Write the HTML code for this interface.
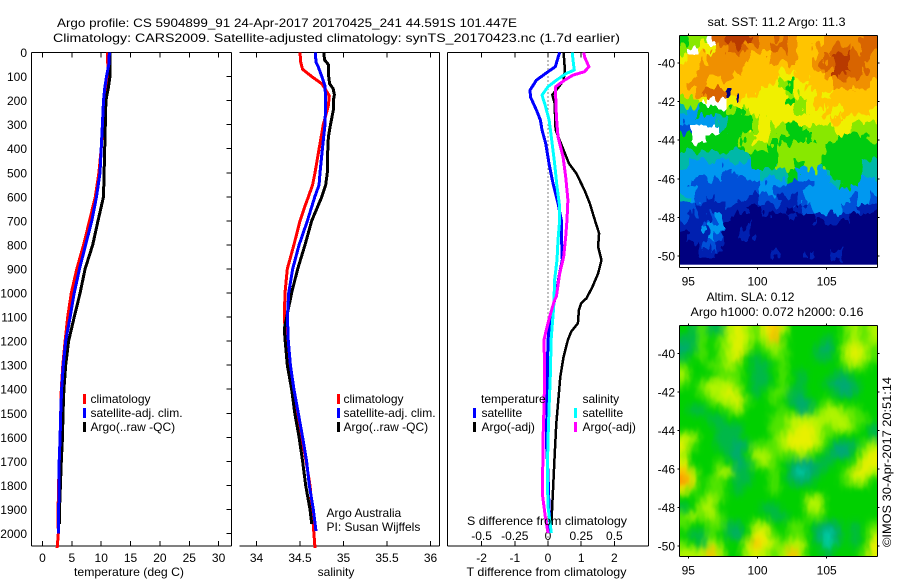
<!DOCTYPE html>
<html lang="en">
<head>
<meta charset="utf-8">
<title>Argo profile</title>
<style>
html,body{margin:0;padding:0;background:#fff}
svg{display:block}
text{font-family:"Liberation Sans",sans-serif;font-size:12px;fill:#000}
</style>
</head>
<body>
<svg id="chart" xmlns="http://www.w3.org/2000/svg" width="900" height="580" viewBox="0 0 900 580">
  <defs>
    <clipPath id="sst-clip"><rect x="679.5" y="35.5" width="198" height="232"/></clipPath>
    <clipPath id="sla-clip"><rect x="679.5" y="325.5" width="198" height="231"/></clipPath>
    <filter id="sla-blur" filterUnits="userSpaceOnUse" x="650" y="300" width="250" height="280" color-interpolation-filters="sRGB">
      <feGaussianBlur in="SourceGraphic" stdDeviation="3.6" result="b"/>
      <feTurbulence type="fractalNoise" baseFrequency="0.25 0.12" numOctaves="1" seed="5" result="n"/>
      <feDisplacementMap in="b" in2="n" scale="6" xChannelSelector="R" yChannelSelector="G"/>
    </filter>
    <filter id="sst-feather" filterUnits="userSpaceOnUse" x="650" y="10" width="250" height="280" color-interpolation-filters="sRGB">
      <feTurbulence type="fractalNoise" baseFrequency="0.14 0.07" numOctaves="2" seed="3" result="n"/>
      <feDisplacementMap in="SourceGraphic" in2="n" scale="20" xChannelSelector="R" yChannelSelector="G"/>
    </filter>
  </defs>
  <text x="57" y="27" textLength="460" lengthAdjust="spacingAndGlyphs">Argo profile: CS 5904899_91 24-Apr-2017 20170425_241 44.591S 101.447E</text>
  <text x="53" y="42" textLength="567" lengthAdjust="spacingAndGlyphs">Climatology: CARS2009. Satellite-adjusted climatology: synTS_20170423.nc (1.7d earlier)</text>
  <g id="plots"></g>

  <g>
    <rect x="83" y="394" width="3" height="10" fill="#f00"/>
    <text x="90.5" y="403">climatology</text>
    <rect x="83" y="408" width="3" height="10" fill="#00f"/>
    <text x="90.5" y="417">satellite-adj. clim.</text>
    <rect x="83" y="422" width="3" height="10" fill="#000"/>
    <text x="90.5" y="431">Argo(..raw -QC)</text>
  </g>
  <g>
    <rect x="337" y="394" width="3" height="10" fill="#f00"/>
    <text x="343.5" y="403">climatology</text>
    <rect x="337" y="408" width="3" height="10" fill="#00f"/>
    <text x="343.5" y="417">satellite-adj. clim.</text>
    <rect x="337" y="422" width="3" height="10" fill="#000"/>
    <text x="343.5" y="431">Argo(..raw -QC)</text>
  </g>
  <text x="326.5" y="517">Argo Australia</text>
  <text x="326.5" y="531">PI: Susan Wijffels</text>

  <g>
    <text x="481" y="403">temperature</text>
    <rect x="473" y="408" width="3" height="10" fill="#00f"/>
    <text x="481.5" y="417">satellite</text>
    <rect x="473" y="422" width="3" height="10" fill="#000"/>
    <text x="481.5" y="431">Argo(-adj)</text>
    <text x="582.5" y="403">salinity</text>
    <rect x="574" y="408" width="3" height="10" fill="#0ff"/>
    <text x="582.5" y="417">satellite</text>
    <rect x="574" y="422" width="3" height="10" fill="#f0f"/>
    <text x="582.5" y="431">Argo(-adj)</text>
  </g>

  <text x="129" y="576" text-anchor="middle" textLength="110" lengthAdjust="spacingAndGlyphs">temperature (deg C)</text>
  <text x="336" y="576" text-anchor="middle">salinity</text>
  <text x="467" y="525" textLength="160" lengthAdjust="spacingAndGlyphs">S difference from climatology</text>
  <text x="466.5" y="576" textLength="160" lengthAdjust="spacingAndGlyphs">T difference from climatology</text>

  <text x="707.5" y="26" textLength="138" lengthAdjust="spacingAndGlyphs">sat. SST: 11.2 Argo: 11.3</text>
  <text x="706.5" y="301" textLength="88" lengthAdjust="spacingAndGlyphs">Altim. SLA: 0.12</text>
  <text x="690.5" y="316" textLength="173" lengthAdjust="spacingAndGlyphs">Argo h1000: 0.072 h2000: 0.16</text>
  <text transform="translate(891 547) rotate(-90)" textLength="170" lengthAdjust="spacingAndGlyphs">©IMOS 30-Apr-2017 20:51:14</text>
</svg>
<script>
// ---- profile data ----
const tempDepths_red = [0,100,150,200,300,400,500,600,700,800,900,1000,1100,1200,1300,1400,1500,1600,1700,1800,1900,2000,2060];
const tempClimatology = [11.05,11.2,10.8,10.4,10.25,10,9.6,9,8,7,5.85,4.9,4.3,3.85,3.45,3.2,3.1,3,2.85,2.75,2.65,2.7,2.5];
const tempDepths_blue = [0,50,100,150,200,300,400,500,600,700,800,900,1000,1100,1200,1300,1400,1500,1600,1700,1800,1900,2000];
const tempSatellite = [11.4,11.3,10.9,10.6,10.4,10.2,10,9.8,9.2,8.4,7.35,6.3,5.4,4.7,3.95,3.55,3.25,3.1,3,2.85,2.85,2.75,2.7];
const tempDepths_black = [0,100,150,200,300,400,500,600,700,800,900,1000,1100,1200,1300,1400,1500,1600,1700,1800,1900,1960];
const tempArgo = [11.5,11.5,11.2,10.8,10.7,10.6,10.5,10.4,9.45,8.55,7.25,6.4,5.4,4.45,3.95,3.65,3.5,3.4,3.2,3.05,2.9,2.9];

const salDepths_red = [0,40,70,100,130,150,180,220,300,400,500,550,600,650,700,800,900,1000,1100,1200,1300,1400,1500,1600,1700,1800,1900,2000,2060];
const salClimatology = [34.5,34.508,34.53,34.634,34.75,34.787,34.837,34.826,34.768,34.72,34.672,34.645,34.596,34.546,34.5,34.43,34.354,34.328,34.32,34.34,34.385,34.423,34.47,34.52,34.57,34.615,34.64,34.66,34.672];
const salDepths_blue = [0,40,60,100,140,200,300,400,500,550,600,700,800,900,1000,1100,1200,1300,1400,1500,1600,1700,1800,1900,1990];
const salSatellite = [34.676,34.684,34.71,34.75,34.787,34.795,34.787,34.757,34.73,34.72,34.67,34.585,34.49,34.416,34.37,34.355,34.366,34.39,34.43,34.48,34.53,34.576,34.607,34.653,34.684];
const salDepths_black = [0,30,50,100,130,150,175,200,240,300,350,400,500,550,600,700,800,900,1000,1150,1200,1300,1400,1500,1600,1700,1800,1900,1960];
const salArgo = [34.776,34.78,34.825,34.83,34.84,34.88,34.895,34.883,34.883,34.85,34.826,34.82,34.814,34.795,34.75,34.634,34.557,34.473,34.404,34.32,34.33,34.354,34.404,34.44,34.49,34.53,34.565,34.615,34.634];

const dTDepths_argo = [0,73,115,142,176,211,322,392,461,502,572,627,696,752,807,863,919,974,1022,1043,1071,1126,1161,1195,1265,1348,1431,1542,1680,1819,1930,1985];
const dTArgo = [.47,.51,.47,.33,.13,.2,.23,.43,.63,.85,1.1,1.26,1.41,1.54,1.51,1.61,1.51,1.34,1.16,1,.93,.9,.7,.6,.47,.37,.32,.25,.2,.15,.11,.07];
const dTDepths_sat = [0,59,87,115,156,184,239,281,322,378,461,544,627,696,780,863,932,1001,1071,1126,1195,1334,1473,1611,1750,1888,1998];
const dTSatellite = [.35,.22,-.07,-.35,-.54,-.53,-.35,-.23,-.18,-.07,.03,.15,.3,.4,.41,.43,.33,.25,.13,.05,0,-.02,-.03,-.05,0,.03,.07];
const dSDepths_sat = [0,31,73,87,115,142,177,225,281,350,461,558,641,696,780,863,946,1029,1057,1126,1195,1334,1473,1611,1750,1888,1998];
const dSSatellite = [.183,.188,.198,.138,.063,0,-.045,-.018,.008,.025,.05,.068,.088,.088,.075,.068,.05,.045,.043,.033,.023,.018,.008,0,-.005,0,.025];
const dSDepths_argo = [0,18,59,80,94,115,142,184,267,350,433,517,613,696,766,849,919,1015,1029,1098,1154,1195,1334,1473,1611,1750,1847,1930,1998];
const dSArgo = [.27,.275,.308,.275,.188,.125,.058,.058,.063,.075,.113,.133,.15,.143,.133,.118,.088,.063,.05,.013,-.013,-.03,-.025,-.03,-.038,-.04,-.04,-.02,0];

// ---- tick labels ----
const depthTicks = [0,100,200,300,400,500,600,700,800,900,1000,1100,1200,1300,1400,1500,1600,1700,1800,1900,2000];
const tempTicks = [0,5,10,15,20,25,30];
const salTicks = [34,34.5,35,35.5,36];
const dTTicks = [-2,-1,0,1,2];
const dSTicks = [-0.5,-0.25,0,0.25,0.5];
const lonTicks = [95,100,105];
const latTicks = [-40,-42,-44,-46,-48,-50];

// ---- map grids: colour level per cell (north to south, west to east); null = no data ----
const _ = null;
const sstGrid = [
[5,6,6,_,10,11,11,11,10,9,9,10,9,8,8,8,9,9,9,9,10,10],
[6,_,7,7,9,10,10,9,9,9,10,10,9,8,8,9,9,10,10,9,10,10],
[7,8,8,9,9,9,9,9,8,8,9,9,9,8,8,9,10,11,11,10,10,9],
[8,8,9,9,9,9,9,8,8,8,8,8,8,8,8,9,10,11,11,10,10,9],
[8,8,9,9,9,9,8,8,8,8,8,7,7,8,8,8,9,11,10,10,9,9],
[8,9,9,8,8,8,8,8,8,8,7,6,5,7,8,8,8,9,9,9,9,8],
[8,8,9,10,10,0,8,8,8,7,7,7,6,7,7,8,7,8,8,8,8,8],
[6,6,7,_,_,7,7,7,7,7,7,7,5,6,7,8,8,8,8,8,8,8],
[4,3,5,5,5,6,5,6,7,7,7,7,7,6,7,7,8,7,8,8,8,7],
[3,3,3,3,4,5,5,5,6,7,7,7,7,7,7,7,7,8,7,7,7,7],
[2,_,_,_,4,5,5,5,6,7,6,6,5,5,6,6,6,7,7,6,6,6],
[5,_,_,5,5,5,5,6,7,7,6,5,5,5,5,6,6,6,5,5,5,6],
[5,5,5,5,5,5,5,6,6,6,5,6,6,6,6,6,5,5,5,5,5,5],
[4,4,4,4,4,4,4,4,5,5,5,6,6,6,6,6,5,5,5,5,5,5],
[4,3,3,3,3,3,3,3,5,5,5,6,6,5,6,6,5,5,5,5,4,4],
[3,3,3,3,3,2,3,3,3,4,4,4,5,3,3,3,4,5,5,5,4,4],
[3,2,2,2,2,2,2,2,2,3,3,3,2,2,2,3,3,4,5,5,3,3],
[3,3,2,2,2,2,2,2,2,3,3,2,2,2,3,3,3,3,3,3,3,3],
[4,3,2,1,2,2,2,1,1,2,2,1,1,2,3,3,3,3,3,2,3,2],
[2,2,1,1,1,1,1,1,0,1,1,1,0,1,2,3,3,3,2,2,1,1],
[2,1,1,2,3,1,0,0,0,0,0,0,1,0,0,1,1,1,1,0,0,0],
[1,1,1,3,3,0,0,1,0,0,0,0,0,0,0,0,0,0,0,0,0,0],
[0,1,1,3,2,0,0,1,0,0,0,0,0,0,0,0,0,0,0,0,0,0],
[0,0,1,2,1,0,0,0,0,0,0,0,0,0,0,0,0,0,0,0,0,0],
[0,0,1,1,0,0,0,0,0,0,1,0,0,0,1,0,0,1,0,0,0,0],
[0,0,0,0,0,0,0,0,0,0,0,0,0,0,0,0,0,0,0,0,0,0]
];
const slaGrid = [
[3,2,4,2,2,5,6,5,4,6,7,5,3,3,3,3,3,3,4,5,4,5],
[2,2,4,3,4,5,6,5,4,5,7,4,3,3,3,3,2,3,4,5,4,5],
[1,2,4,3,4,5,6,5,3,4,5,4,3,3,3,2,1,3,5,6,5,4],
[2,3,4,3,4,5,6,3,2,3,4,4,3,3,3,2,2,3,5,6,5,4],
[4,3,3,4,4,5,4,3,2,2,3,4,3,3,3,3,3,3,4,5,4,3],
[5,3,3,3,4,4,4,3,2,2,3,4,3,2,3,3,3,2,2,3,3,3],
[4,3,4,5,5,5,4,3,2,2,3,4,3,2,3,3,2,1,1,2,3,3],
[3,3,4,5,5,6,5,3,2,3,4,4,2,2,3,3,3,2,1,2,3,3],
[3,3,3,4,5,5,6,4,3,3,4,3,2,1,2,3,4,3,3,3,3,3],
[3,2,2,3,3,4,5,3,3,3,3,4,3,1,2,4,5,5,4,4,3,3],
[3,3,3,2,2,3,3,3,3,3,4,4,5,5,5,5,5,5,5,4,4,3],
[3,3,3,3,2,2,2,3,3,3,4,4,5,6,6,5,4,5,5,4,3,2],
[5,5,3,3,2,2,2,3,3,3,4,5,6,6,6,5,4,3,3,3,3,2],
[6,4,3,3,2,2,1,2,4,4,4,5,6,6,6,5,3,1,1,2,4,5],
[5,3,3,3,3,2,1,3,5,5,4,4,4,5,4,3,2,1,1,3,5,6],
[6,3,3,3,4,3,1,2,4,5,4,3,2,1,1,2,2,3,3,4,6,6],
[7,5,3,3,5,5,2,2,3,3,4,3,1,0,1,2,3,3,4,6,6,5],
[8,6,3,4,4,3,2,2,3,3,4,3,2,1,2,3,3,3,4,5,5,3],
[6,4,3,4,4,3,2,3,3,3,4,3,3,3,3,3,3,3,3,3,3,3],
[3,3,4,5,4,3,3,3,3,3,3,3,3,3,5,5,3,3,3,3,3,3],
[2,3,5,5,3,3,3,3,3,2,2,3,3,3,5,5,3,3,3,3,3,3],
[4,5,4,5,4,3,3,3,3,3,2,2,3,3,4,4,3,3,3,3,3,3],
[4,3,3,4,4,2,2,3,5,5,3,3,4,4,3,2,1,2,3,2,3,4],
[3,2,2,4,3,2,1,3,6,6,4,3,4,4,3,1,0,1,3,2,3,5],
[4,3,2,5,4,3,3,5,7,6,5,4,5,5,3,2,0,2,3,2,3,6],
[5,5,5,7,5,3,3,5,6,5,4,5,7,5,3,3,2,3,3,3,4,6]
];
const sstPalette = ['#00007f','#0020b0','#0050d8','#0098f0','#00b8a8','#00cc10','#88e800','#f0f000','#ffc400','#f09000','#d86400','#b83a00'];
const slaPalette = ['#00d0b0','#00a878','#00b848','#00d000','#50e400','#b0f400','#e8f000','#ffc000','#ff9000'];

const NS = 'http://www.w3.org/2000/svg';
const plots = document.getElementById('plots');
function el(tag, attrs, parent) {
  const e = document.createElementNS(NS, tag);
  for (const k in attrs) e.setAttribute(k, attrs[k]);
  (parent || plots).appendChild(e);
  return e;
}

// ---- axis functions ----
const TOP = 52.5, BOTTOM = 546;
const yDepth = p => TOP + 0.2405 * p;
const xTemp = t => 42.5 + 5.87 * t;
const xSal = s => 256.5 + 87 * (s - 34);
const xDT = d => 548 + 33.2 * d;
const xDS = d => 548 + 132.8 * d;
const xLon = lon => 688.3 + 13.84 * (lon - 95);
const ySst = lat => 63 - 19.3 * (lat + 40);
const ySla = lat => 353.3 - 19.27 * (lat + 40);

function line(x1, y1, x2, y2, parent) {
  const l = el('line', {x1, y1, x2, y2, stroke: '#000', 'stroke-width': 1, 'shape-rendering': 'crispEdges'}, parent);
  
  
  return l;
}
function label(x, y, str, anchor) {
  const t = el('text', {x, y, 'text-anchor': anchor || 'middle'});
  t.textContent = str;
  
  
  return t;
}
function profile(name, xf, depths, values, color, width) {
  const pts = values.map((v, i) => xf(v).toFixed(1) + ',' + yDepth(depths[i]).toFixed(1)).join(' ');
  const p = el('polyline', {points: pts, fill: 'none', stroke: color, 'stroke-width': width, 'stroke-linejoin': 'round', 'shape-rendering': 'crispEdges'});
  
  
}
function frame(xl, xr, leftSpine) {
  line(xl, TOP, xr, TOP);
  line(xl, BOTTOM, xr, BOTTOM);
  line(xr, TOP, xr, BOTTOM);
  if (leftSpine) line(xl, TOP, xl, BOTTOM);
}

// temperature panel
const P1L = 31.5, P1R = 231.5;
frame(P1L, P1R, true);
tempTicks.forEach(t => {
  line(xTemp(t), TOP, xTemp(t), TOP + 5);
  line(xTemp(t), BOTTOM, xTemp(t), BOTTOM - 5);
  label(xTemp(t), 562, String(t));
});
depthTicks.forEach(p => {
  line(P1R - 5, yDepth(p), P1R, yDepth(p));
  label(27, yDepth(p) + 4.5, String(p), 'end');
});
profile('temperature-climatology-line', xTemp, tempDepths_red, tempClimatology, '#f00', 3);
profile('temperature-argo-line', xTemp, tempDepths_black, tempArgo, '#000', 3);
profile('temperature-satellite-line', xTemp, tempDepths_blue, tempSatellite, '#00f', 3);

// salinity panel
const P2L = 239.5, P2R = 439.5;
frame(P2L, P2R, false);
salTicks.forEach(s => {
  line(xSal(s), TOP, xSal(s), TOP + 5);
  line(xSal(s), BOTTOM, xSal(s), BOTTOM - 5);
  label(xSal(s), 562, String(s));
});
profile('salinity-climatology-line', xSal, salDepths_red, salClimatology, '#f00', 3);
profile('salinity-argo-line', xSal, salDepths_black, salArgo, '#000', 3);
profile('salinity-satellite-line', xSal, salDepths_blue, salSatellite, '#00f', 3);

// difference panel
const P3L = 447.5, P3R = 648.5;
frame(P3L, P3R, true);
dTTicks.forEach(d => {
  line(xDT(d), TOP, xDT(d), TOP + 5);
  line(xDT(d), BOTTOM, xDT(d), BOTTOM - 5);
  label(xDT(d), 562, String(d));
});
dSTicks.forEach(d => {
  label(xDS(d), 540, String(d));
});
const zeroLine = el('line', {x1: xDT(0), y1: TOP, x2: xDT(0), y2: BOTTOM, stroke: '#000', 'stroke-width': 1, 'stroke-dasharray': '1 3'});


profile('t-difference-argo-line', xDT, dTDepths_argo, dTArgo, '#000', 2.5);
profile('t-difference-satellite-line', xDT, dTDepths_sat, dTSatellite, '#00f', 3);
profile('s-difference-satellite-line', xDS, dSDepths_sat, dSSatellite, '#0ff', 3);
profile('s-difference-argo-line', xDS, dSDepths_argo, dSArgo, '#f0f', 3);

// maps
const MAP_L = 679.5, MAP_R = 877.5;
const LON_W = 95 + (MAP_L - 688.3) / 13.84;
const LON_STEP = (MAP_R - MAP_L) / 13.84 / 22;
function drawCells(grid, palette, parent, yLat, latTop, latStep) {
  const pad = 14;
  grid.forEach((row, r) => {
    row.forEach((v, c) => {
      if (v === null) return;
      const x0 = xLon(LON_W + c * LON_STEP);
      const x1 = xLon(LON_W + (c + 1) * LON_STEP);
      const y0 = yLat(latTop - r * latStep);
      const y1 = yLat(latTop - (r + 1) * latStep);
      const padL = c === 0 ? pad : 0;
      const padR = c === row.length - 1 ? pad : 0;
      const padT = r === 0 ? pad : 0;
      const padB = r === grid.length - 1 ? pad : 0;
      const cell = el('rect', {x: x0 - padL, y: y0 - padT, width: x1 - x0 + 0.4 + padL + padR, height: y1 - y0 + 0.4 + padT + padB, fill: palette[v], 'shape-rendering': 'crispEdges'}, parent);
      
      
    });
  });
}
function mapAxes(top, bottom, yLat) {
  line(MAP_L, top, MAP_R, top);
  line(MAP_L, bottom, MAP_R, bottom);
  line(MAP_L, top, MAP_L, bottom);
  line(MAP_R, top, MAP_R, bottom);
  lonTicks.forEach(lon => {
    line(xLon(lon), top - 2, xLon(lon), top);
    line(xLon(lon), bottom, xLon(lon), bottom + 2);
    label(xLon(lon), bottom + 18, String(lon));
  });
  latTicks.forEach(lat => {
    line(MAP_L - 2, yLat(lat), MAP_L, yLat(lat));
    line(MAP_R, yLat(lat), MAP_R + 2, yLat(lat));
    label(675, yLat(lat) + 4.5, String(lat), 'end');
  });
}

const sstGroup = el('g', {'clip-path': 'url(#sst-clip)'});


const sstField = el('g', {filter: 'url(#sst-feather)'}, sstGroup);


drawCells(sstGrid, sstPalette, sstField, ySst, -38.56, 12.02 / 26);
const sstGap = el('rect', {x: MAP_L, y: ySst(-50.45), width: MAP_R - MAP_L, height: 3, fill: '#fff'}, sstGroup);


mapAxes(35.5, 267.5, ySst);

const slaGroup = el('g', {'clip-path': 'url(#sla-clip)'});


const slaBlur = el('g', {filter: 'url(#sla-blur)'}, slaGroup);


drawCells(slaGrid, slaPalette, slaBlur, ySla, -38.57, 11.98 / 26);
mapAxes(325.5, 556.5, ySla);
</script>
</body>
</html>
